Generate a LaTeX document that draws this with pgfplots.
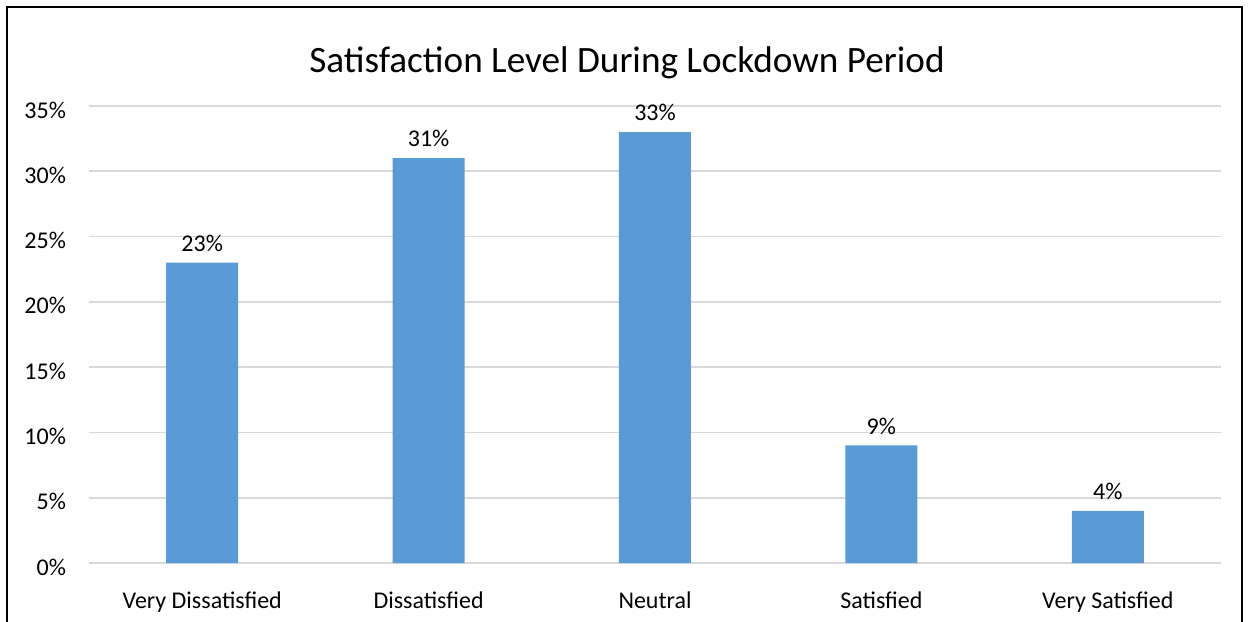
\documentclass[border=0pt]{standalone}
\usepackage{pgfplots}
\pgfplotsset{compat=1.18}
\usepackage{fontspec}
\setmainfont{Carlito}
\definecolor{barblue}{HTML}{5B9BD5}
\definecolor{gridgray}{HTML}{D9D9D9}
\begin{document}
\begin{tikzpicture}[x=1pt,y=1pt]
\clip (0,0) rectangle (625,311);
\path[fill=white] (0,0) rectangle (625,311);
\draw[line width=1.2pt,black] (3.5,-10) -- (3.5,307.5) -- (621,307.5) -- (621,-10);
\node[font=\fontsize{18.6}{22}\selectfont] at (313.5,279.5) {Satisfaction Level During Lockdown Period};
\begin{axis}[
  at={(44.5pt,29.5pt)}, anchor=south west,
  scale only axis, width=566pt, height=228.5pt,
  xmin=-0.5, xmax=4.5, ymin=0, ymax=35,
  xtick=data,
  xticklabels={Very Dissatisfied,Dissatisfied,Neutral,Satisfied,Very Satisfied},
  ytick={0,5,10,15,20,25,30,35},
  yticklabel={\pgfmathprintnumber{\tick}\%},
  /pgf/number format/assume math mode=true,
  tick label style={font=\fontsize{12}{14}\selectfont},
  major tick length=0pt,
  axis line style={draw=none},
  ymajorgrids, grid style={gridgray, line width=0.8pt},
  yticklabel style={xshift=-8pt, yshift=-2pt},
  xticklabel style={yshift=-11pt},
  ybar, bar width=36pt,
  nodes near coords={\pgfmathprintnumber{\pgfplotspointmeta}\%},
  nodes near coords style={font=\fontsize{12}{14}\selectfont, black, yshift=2pt, /pgf/number format/assume math mode=true},
  clip=false,
]
\addplot[fill=barblue, draw=none] coordinates {(0,23) (1,31) (2,33) (3,9) (4,4)};
\end{axis}
\end{tikzpicture}
\end{document}
